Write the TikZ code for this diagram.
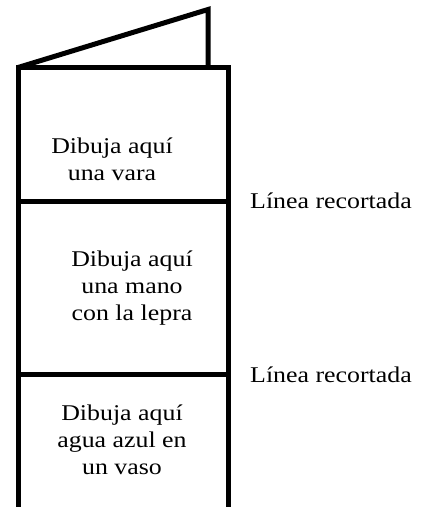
\documentclass[tikz,border=0pt]{standalone}
\usepackage{fontspec}
\setmainfont[FakeStretch=1.15]{Liberation Serif}
\usepackage{tikz}
\usetikzlibrary{positioning}
\tikzstyle{fold} = [line width=5pt, line join=miter, color=black]
\tikzstyle{panel} = [align=center, font=\fontsize{22.5}{27}\selectfont, inner sep=0pt]
\tikzstyle{cutlabel} = [anchor=base west, font=\fontsize{22.5}{27}\selectfont, inner sep=0pt]

\begin{document}
\begin{tikzpicture}[x=1pt, y=-1pt]
\useasboundingbox (0,0) rectangle (428,507);

% Corners of the leaflet
\coordinate (tl) at (18,67.5);
\coordinate (tr) at (228,67.5);
\coordinate (bl) at (18,507);
\coordinate (br) at (228,507);
\coordinate (flap) at (208,9.5);

% Back flap
\draw[fold] (tl) -- (flap) -- (flap |- tl);

% Front sheet
\draw[fold] (bl) -- (tl) -- (tr) -- (br);

% Cut lines
\coordinate (c1l) at (18,201.5);
\coordinate (c2l) at (18,374);
\draw[fold] (c1l) -- (c1l -| tr);
\draw[fold] (c2l) -- (c2l -| tr);

% Panel texts
\node[panel] (vara) at (112,159) {Dibuja aquí\\una vara};
\node[panel] (mano) at (132,288) {Dibuja aquí\\una mano\\con la lepra};
\node[panel] (vaso) at (122,440) {Dibuja aquí\\agua azul en\\un vaso};

% Labels
\node[cutlabel] (cut1) at (250,208) {Línea recortada};
\node[cutlabel] (cut2) at (250,382) {Línea recortada};
\end{tikzpicture}
\end{document}
